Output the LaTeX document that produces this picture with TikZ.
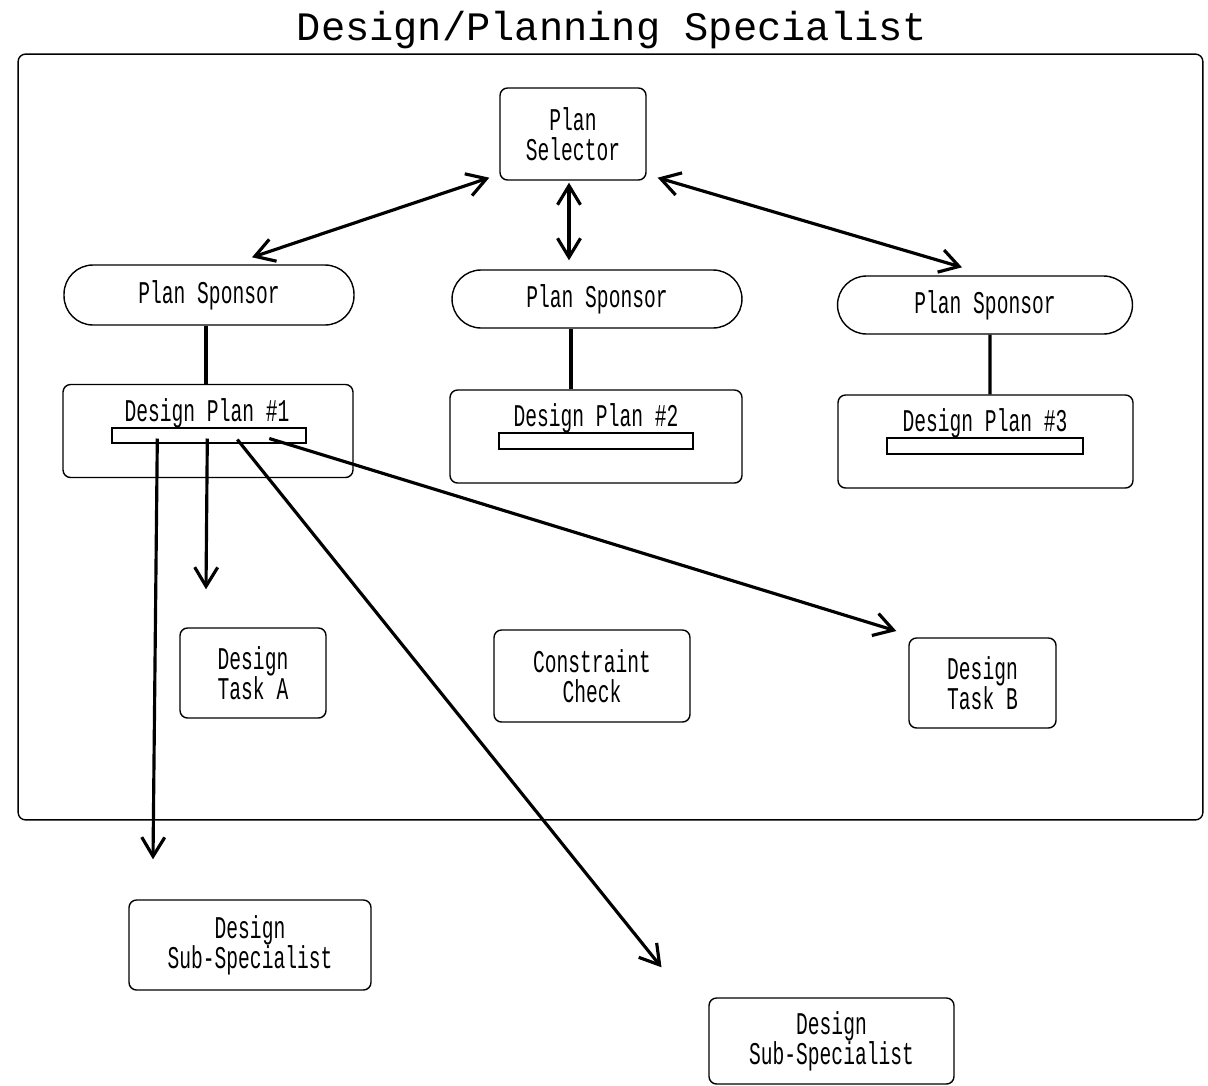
\documentclass[tikz,border=0pt]{standalone}
\usepackage{fontspec}
\usetikzlibrary{arrows.meta,calc}
\newfontfamily\titlefont{Liberation Mono}
\newfontfamily\labelfont[FakeStretch=0.62]{Liberation Mono}
\tikzset{
  box/.style={draw, line width=0.8pt, rounded corners=0.15cm, inner sep=0pt,
    align=center, font=\labelfont\fontsize{18}{17}\selectfont},
  pill/.style={box, rounded corners=0.58cm},
  barbox/.style={draw, line width=0.8pt, inner sep=0pt},
  lbl/.style={inner sep=0pt, font=\labelfont\fontsize{18}{17}\selectfont},
  link/.style={line width=1.8pt},
  flow/.style={line width=1.8pt, -{Straight Barb[length=0.38cm,width=0.46cm,line width=1.8pt]}},
  both/.style={line width=1.8pt, {Straight Barb[length=0.38cm,width=0.46cm,line width=1.8pt]}-{Straight Barb[length=0.38cm,width=0.46cm,line width=1.8pt]}}
}
\begin{document}
\begin{tikzpicture}[x=0.02cm, y=-0.02cm]
\useasboundingbox (0,0) rectangle (1208,1086);

% title and outer frame
\node[inner sep=0pt, font=\titlefont\fontsize{23}{23}\selectfont] (title) at (612,30) {Design/Planning Specialist};
\node[draw, line width=0.8pt, rounded corners=0.15cm, minimum width=23.7cm, minimum height=15.32cm] (frame) at (610.5,437) {};

% selector and sponsors
\node[box, minimum width=2.92cm, minimum height=1.84cm] (sel) at (573,134) {Plan\\Selector};
\node[pill, minimum width=5.8cm, minimum height=1.2cm] (sp1) at (209,295) {Plan Sponsor};
\node[pill, minimum width=5.8cm, minimum height=1.16cm] (sp2) at (597,299) {Plan Sponsor};
\node[pill, minimum width=5.9cm, minimum height=1.16cm] (sp3) at (985,305) {Plan Sponsor};

% design plans with their step bars
\node[box, minimum width=5.8cm, minimum height=1.86cm] (dp1) at (208,431) {};
\node[lbl] (dp1t) at (207,413) {Design Plan \#1};
\node[barbox, minimum width=3.88cm, minimum height=0.3cm] (bar1) at (209,435.5) {};
\node[box, minimum width=5.84cm, minimum height=1.86cm] (dp2) at (596,436.5) {};
\node[lbl] (dp2t) at (596,418) {Design Plan \#2};
\node[barbox, minimum width=3.88cm, minimum height=0.32cm] (bar2) at (596,441) {};
\node[box, minimum width=5.9cm, minimum height=1.86cm] (dp3) at (985.5,441.5) {};
\node[lbl] (dp3t) at (985,423) {Design Plan \#3};
\node[barbox, minimum width=3.92cm, minimum height=0.32cm] (bar3) at (985,446) {};

% tasks and sub-specialists
\node[box, minimum width=2.92cm, minimum height=1.8cm] (taskA) at (253,673) {Design\\Task A};
\node[box, minimum width=3.92cm, minimum height=1.84cm] (check) at (592,676) {Constraint\\Check};
\node[box, minimum width=2.94cm, minimum height=1.8cm] (taskB) at (982.5,683) {Design\\Task B};
\node[box, minimum width=4.84cm, minimum height=1.8cm] (sub1) at (250,945) {Design\\Sub-Specialist};
\node[box, minimum width=4.9cm, minimum height=1.72cm] (sub2) at (831.5,1041) {Design\\Sub-Specialist};

% selector <-> sponsors
\draw[both] ($(sel.south west)+(-10,-3)$) -- ($(sp1.north)+(43,-7)$);
\draw[both] ($(sel.south)+(-4,2)$) -- ($(sp2.north)+(-28,-9)$);
\draw[both] ($(sel.south east)+(11,-3)$) -- ($(sp3.north)+(-23,-8)$);

% sponsors to plans
\draw[link] ($(sp1.south)+(-3,0)$) -- ($(dp1.north)+(-2,0)$);
\draw[link] ($(sp2.south)+(-26,0)$) -- ($(dp2.north)+(-25,0)$);
\draw[link] ($(sp3.south)+(5,0)$) -- ($(dp3.north)+(4.5,0)$);

% plan steps dispatched from the first plan
\coordinate (tSub1) at ($(sub1.north)+(-97,-40)$);
\coordinate (tA) at ($(taskA.north)+(-47,-38)$);
\coordinate (tSub2) at ($(sub2.north)+(-170,-30)$);
\coordinate (tB) at ($(taskB.west)+(-12,-52)$);
\draw[flow] ($(bar1.west)+(46,3)$) -- (tSub1);
\draw[flow] ($(bar1.west)+(96,3)$) -- (tA);
\draw[flow] ($(bar1.west)+(126,4)$) -- (tSub2);
\draw[flow] ($(bar1.west)+(158,3)$) -- (tB);
\end{tikzpicture}
\end{document}
